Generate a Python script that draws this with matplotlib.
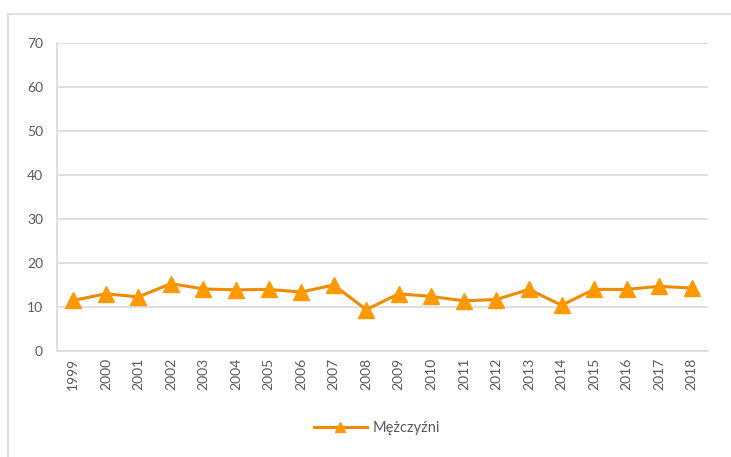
import matplotlib
matplotlib.use("Agg")
import matplotlib.pyplot as plt
from matplotlib.lines import Line2D

# values
years = ["1999", "2000", "2001", "2002", "2003", "2004", "2005", "2006", "2007", "2008",
         "2009", "2010", "2011", "2012", "2013", "2014", "2015", "2016", "2017", "2018"]
men = [11.5, 13.0, 12.3, 15.3, 14.1, 13.9, 14.0, 13.4, 15.0, 9.4,
       13.0, 12.4, 11.4, 11.7, 14.0, 10.4, 14.0, 14.0, 14.7, 14.3]
y_ticks = [0, 10, 20, 30, 40, 50, 60, 70]

plt.rcParams["font.family"] = ["Lato", "DejaVu Sans"]

fig = plt.figure(figsize=(7.31, 4.57), dpi=100)
ax = fig.add_axes([57 / 731, 1 - 351 / 457, (708 - 57) / 731, (351 - 43) / 457])

x = list(range(len(years)))
ax.plot(x, men, color="#F08A00", linewidth=2.2, marker="^", markersize=11,
        markerfacecolor="#FF9900", markeredgecolor="#FF9900", label="Mężczyźni", zorder=3)

ax.set_xlim(-0.5, len(years) - 0.5)
ax.set_ylim(0, 70)
ax.set_yticks(y_ticks)
ax.set_xticks(x)
ax.set_xticklabels(years, rotation=90)
ax.tick_params(length=0, colors="#595959", labelsize=10)
ax.tick_params(axis="y", pad=10)
ax.tick_params(axis="x", pad=5)
ax.grid(axis="y", color="#D9D9D9", linewidth=1.2)
ax.set_axisbelow(True)
for s in ["top", "right"]:
    ax.spines[s].set_visible(False)
ax.spines["left"].set_color("#D9D9D9")
ax.spines["bottom"].set_color("#D9D9D9")
ax.spines["left"].set_linewidth(1.2)
ax.spines["bottom"].set_linewidth(1.2)

# outer chart border (cut off at right and bottom)
bx = 8 / 731
by = 1 - 14 / 457
fig.add_artist(Line2D([bx, bx], [0, by], color="#D9D9D9", linewidth=1.2, transform=fig.transFigure))
fig.add_artist(Line2D([bx, 1], [by, by], color="#D9D9D9", linewidth=1.2, transform=fig.transFigure))

fig.legend(loc="center", bbox_to_anchor=(377 / 731, 1 - 428 / 457), frameon=False,
           fontsize=10.5, labelcolor="#595959", handlelength=3.6, handletextpad=0.4,
           markerscale=0.7)

fig.savefig("out.png", dpi=100)
